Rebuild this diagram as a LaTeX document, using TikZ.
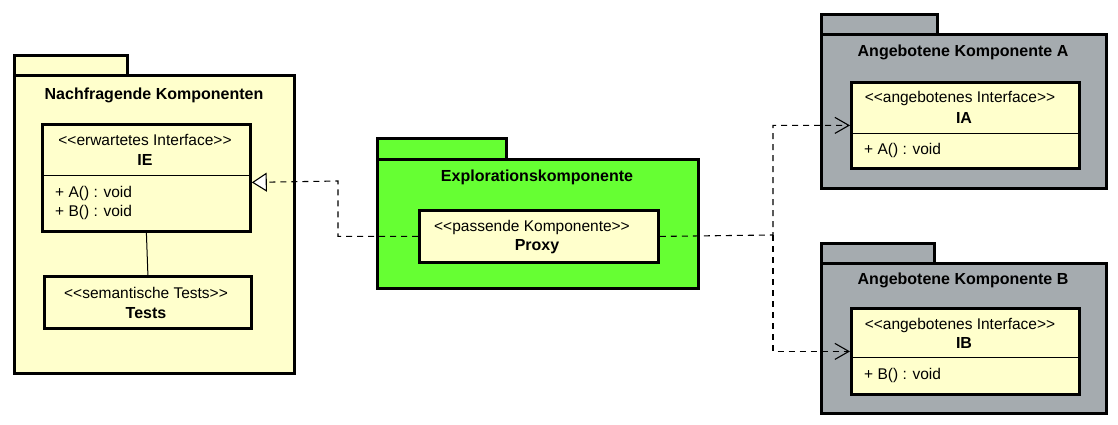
\documentclass[tikz,border=0pt]{standalone}
\usepackage{fontspec}
\setmainfont{Liberation Sans}[Ligatures=TeXOff]
\usetikzlibrary{arrows.meta,calc}

\definecolor{classyellow}{RGB}{255,255,204}
\definecolor{explgreen}{RGB}{102,255,51}
\definecolor{pkggray}{RGB}{165,171,175}

\tikzset{
  pkg/.style={draw, line width=2.8pt, rectangle, inner sep=0pt, anchor=north west},
  classbox/.style={draw, line width=2.8pt, fill=classyellow, rectangle, inner sep=0pt, anchor=north west},
  pkgtitle/.style={font=\fontsize{16}{19}\selectfont\bfseries},
  stereo/.style={font=\fontsize{15.5}{18}\selectfont},
  classname/.style={font=\fontsize{16}{19}\selectfont\bfseries},
  member/.style={font=\fontsize{15.5}{18}\selectfont, anchor=west, inner sep=0pt},
  divider/.style={line width=1pt},
  dep/.style={line width=1.1pt, dash pattern=on 6pt off 5pt, -{Straight Barb[length=14pt,width=16pt]}},
  realize/.style={line width=1.1pt, dash pattern=on 6pt off 5pt, -{Triangle[fill=white,length=15pt,width=19pt]}}
}

\begin{document}
\begin{tikzpicture}[x=1pt,y=-1pt]
    \useasboundingbox (0,0) rectangle (1118,425);
    % Nachfragende Komponenten
    \node[pkg, fill=classyellow, minimum width=113pt, minimum height=20pt] (nachtab) at (13,54) {};
    \node[pkg, fill=classyellow, minimum width=280pt, minimum height=298pt] (nach) at (13,74) {};
    \node[pkgtitle] (nachtitle) at (154,95) {Nachfragende Komponenten};
    \node[classbox, minimum width=208pt, minimum height=107pt] (ie) at (41,123) {};
    \draw[divider] ($(ie.north west)+(0,52)$) -- ($(ie.north east)+(0,52)$);
    \node[stereo] (iestereo) at (145,140) {<<erwartetes Interface>>};
    \node[classname] (iename) at (145,160) {IE};
    \node[member] (iea) at (55,193) {+ A() : void};
    \node[member] (ieb) at (55,212) {+ B() : void};
    \node[classbox, minimum width=207pt, minimum height=52pt] (tests) at (43,275) {};
    \node[stereo] (testsstereo) at (146,293) {<<semantische Tests>>};
    \node[classname] (testsname) at (146,313) {Tests};
    \draw[line width=1pt] (ie.south) -- (tests.north);
    % Explorationskomponente
    \node[pkg, fill=explgreen, minimum width=129pt, minimum height=21pt] (expltab) at (376,137) {};
    \node[pkg, fill=explgreen, minimum width=321pt, minimum height=129pt] (expl) at (376,158) {};
    \node[pkgtitle] (expltitle) at (537,177) {Explorationskomponente};
    \node[classbox, minimum width=239pt, minimum height=52pt] (proxy) at (418,209) {};
    \node[stereo] (proxystereo) at (532,227) {<<passende Komponente>>};
    \node[classname] (proxyname) at (537,247) {Proxy};
    % Angebotene Komponente A
    \node[pkg, fill=pkggray, minimum width=116pt, minimum height=20pt] (atab) at (820,13) {};
    \node[pkg, fill=pkggray, minimum width=285pt, minimum height=154pt] (pkga) at (820,33) {};
    \node[pkgtitle] (atitle) at (963,52) {Angebotene Komponente A};
    \node[classbox, minimum width=228pt, minimum height=86pt] (ia) at (850,81) {};
    \draw[divider] ($(ia.north west)+(0,52)$) -- ($(ia.north east)+(0,52)$);
    \node[stereo] (iastereo) at (960,98) {<<angebotenes Interface>>};
    \node[classname] (ianame) at (964,118) {IA};
    \node[member] (iaa) at (864,150) {+ A() : void};
    % Angebotene Komponente B
    \node[pkg, fill=pkggray, minimum width=113pt, minimum height=20pt] (btab) at (820,242) {};
    \node[pkg, fill=pkggray, minimum width=285pt, minimum height=150pt] (pkgb) at (820,262) {};
    \node[pkgtitle] (btitle) at (963,280) {Angebotene Komponente B};
    \node[classbox, minimum width=228pt, minimum height=86pt] (ib) at (850,307) {};
    \draw[divider] ($(ib.north west)+(0,50)$) -- ($(ib.north east)+(0,50)$);
    \node[stereo] (ibstereo) at (960,325) {<<angebotenes Interface>>};
    \node[classname] (ibname) at (964,343) {IB};
    \node[member] (ibb) at (864,375) {+ B() : void};
    % Connectors
    \coordinate (iein) at ($(ie.east)+(0,4.5)$);
    \coordinate (realbend) at (338,181);
    \draw[realize] (proxy.west) -| (realbend) -- (iein);
    \coordinate (fork) at (773,235);
    \draw[dep] (proxy.east) -- (fork) |- (ia.west);
    \draw[dep] (fork) |- (ib.west);
\end{tikzpicture}
\end{document}
